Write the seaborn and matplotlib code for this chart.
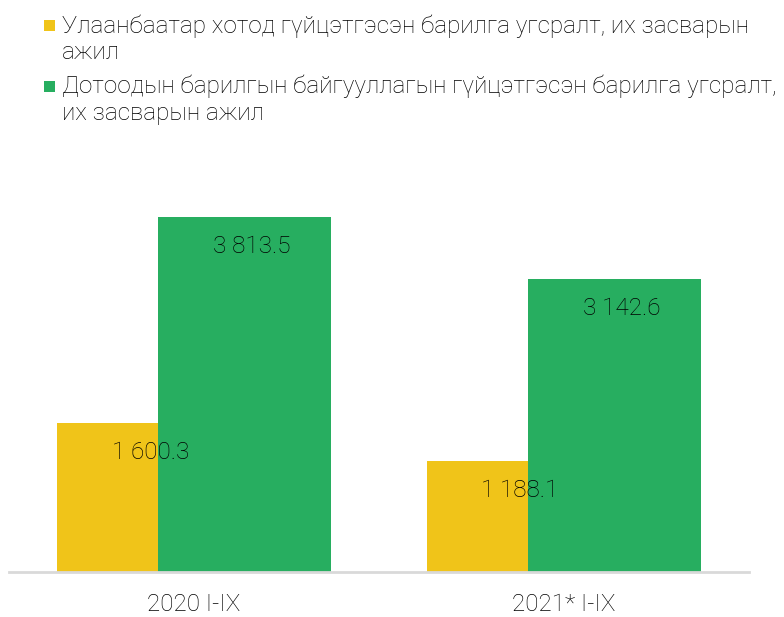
import matplotlib
matplotlib.use("Agg")
import matplotlib.pyplot as plt
import matplotlib.patches as mpatches
import seaborn as sns
import pandas as pd

categories = ["2020 I-IX", "2021* I-IX"]
series_names = [
    "Улаанбаатар хотод гүйцэтгэсэн барилга угсралт, их засварын\nажил",
    "Дотоодын барилгын байгууллагын гүйцэтгэсэн барилга угсралт,\nих засварын ажил",
]
ub_values = [1600.3, 1188.1]
domestic_values = [3813.5, 3142.6]
colors = ["#F0C419", "#27AE60"]

df = pd.DataFrame({
    "period": categories * 2,
    "series": [series_names[0]] * 2 + [series_names[1]] * 2,
    "value": ub_values + domestic_values,
})

sns.set_theme(style="white")
plt.rcParams["font.family"] = ["Roboto", "DejaVu Sans"]
plt.rcParams["font.weight"] = "light"

fig = plt.figure(figsize=(7.84, 6.17), dpi=100)
ax = fig.add_axes([0.0115, 0.0729, 0.9435, 0.6337])

sns.barplot(data=df, x="period", y="value", hue="series", palette=colors,
            order=categories, hue_order=series_names, width=0.8,
            saturation=1, legend=False, ax=ax)

# excel-style overlapping bars: widen each bar and pull the pair together
bar_w = 0.466
shift = 0.137
n_cat = len(categories)
for i, p in enumerate(ax.patches[:2 * n_cat]):
    cat = i % n_cat
    sign = -1 if i < n_cat else 1
    p.set_width(bar_w)
    p.set_x(cat + sign * shift - bar_w / 2)
    p.set_linewidth(0)

for i, p in enumerate(ax.patches[:2 * n_cat]):
    h = p.get_height()
    ax.annotate(f"{h:,.1f}".replace(",", " "),
                (p.get_x() + p.get_width() / 2, h),
                xytext=(5, -21), textcoords="offset points",
                ha="center", va="center", fontsize=17.5, color="#000000",
                zorder=5)

ax.set_xlim(-0.5, 1.5)
ax.set_ylim(0, 4200)
ax.set_xlabel("")
ax.set_ylabel("")
ax.set_yticks([])
ax.tick_params(axis="x", length=0, labelsize=17.5, pad=15, colors="#000000")
sns.despine(ax=ax, left=True, top=True, right=True)
ax.spines["bottom"].set_color("#D9D9D9")
ax.spines["bottom"].set_linewidth(2)

# legend drawn by hand so the swatch sits on the first line of each label
W, H = 784, 617
legend_rows = [14, 75]
for name, c, top in zip(series_names, colors, legend_rows):
    fig.add_artist(mpatches.Rectangle((44 / W, 1 - (top + 17) / H), 11 / W, 11 / H,
                                      transform=fig.transFigure, color=c, lw=0))
    fig.text(62 / W, 1 - top / H, name, ha="left", va="top", fontsize=17.5,
             color="#000000", linespacing=1.2)

fig.savefig("out.png", dpi=100)
